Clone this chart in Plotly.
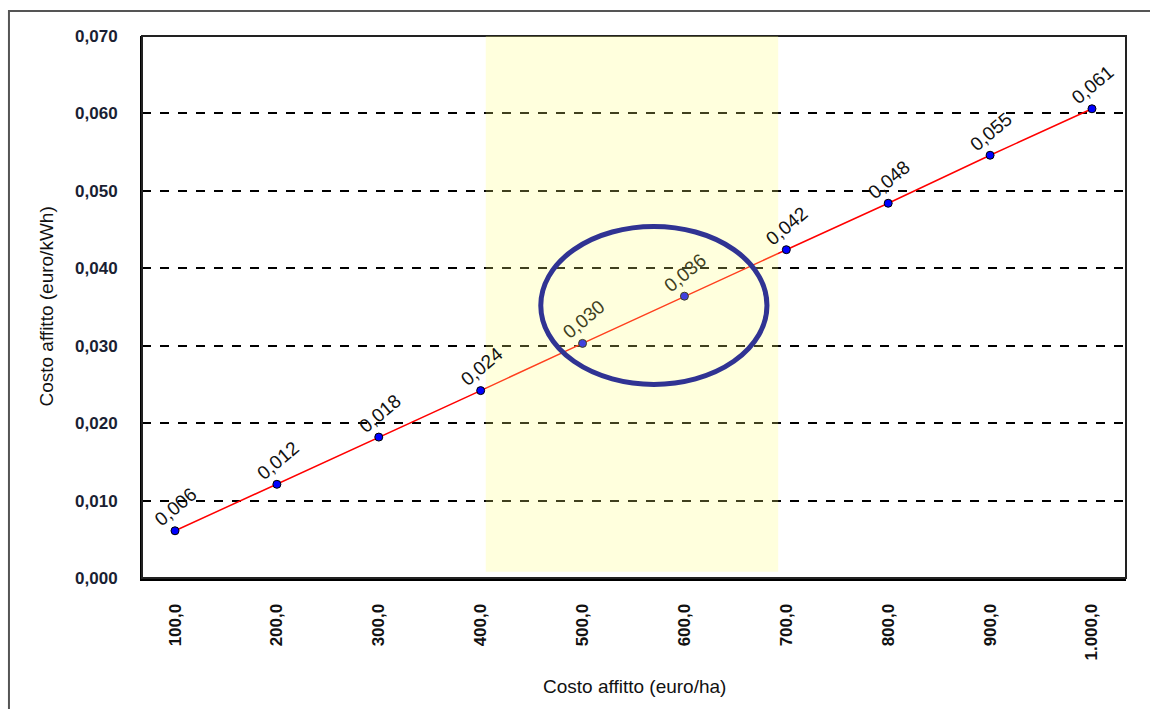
import plotly.graph_objects as go

# Rental cost per hectare vs. resulting cost per kWh
costo_ha = [100, 200, 300, 400, 500, 600, 700, 800, 900, 1000]
costo_kwh = [0.0061, 0.0121, 0.0182, 0.0242, 0.0303, 0.0364, 0.0424, 0.0484, 0.0546, 0.0606]
y_ticks = [0.0, 0.01, 0.02, 0.03, 0.04, 0.05, 0.06, 0.07]

# highlighted range and the ring around the central values
fascia_x = [405, 692]
fascia_y = [0.0008, 0.0705]
ellisse_x = [459, 681]
ellisse_y = [0.0250, 0.0454]

FONT = "Liberation Sans, Arial"

fig = go.Figure()
fig.add_trace(go.Scatter(
    x=costo_ha, y=costo_kwh, mode="lines+markers",
    line=dict(color="#ff0000", width=1.5),
    marker=dict(color="#0000ff", size=8, line=dict(color="#000000", width=1)),
    hoverinfo="skip", showlegend=False,
))

annotations = []
for xv, yv in zip(costo_ha, costo_kwh):
    inside = fascia_x[0] <= xv <= fascia_x[1]
    annotations.append(dict(
        x=xv, y=yv, xref="x", yref="y", showarrow=False,
        text=f"{yv:.3f}".replace(".", ","), textangle=-40,
        xshift=1, yshift=24,
        font=dict(family=FONT, size=19, color="#404020" if inside else "#111111"),
    ))

annotations.append(dict(
    x=0.5, y=-0.2, xref="paper", yref="paper", showarrow=False,
    text="Costo affitto (euro/ha)", xanchor="center", yanchor="middle",
    font=dict(family=FONT, size=19, color="#111111"),
))
annotations.append(dict(
    x=-0.098, y=0.5, xref="paper", yref="paper", showarrow=False,
    text="Costo affitto (euro/kWh)", textangle=-90, xanchor="center", yanchor="middle",
    font=dict(family=FONT, size=19, color="#111111"),
))

shapes = [
    # outer frame
    dict(type="rect", xref="paper", yref="paper", x0=-0.1352, x1=1.03, y0=-0.25, y1=1.0461,
         line=dict(color="#555555", width=2), layer="below"),
    # plot frame
    dict(type="rect", xref="paper", yref="paper", x0=0, x1=1, y0=0, y1=1,
         line=dict(color="#222222", width=2), layer="above"),
    # translucent highlight band
    dict(type="rect", xref="x", yref="y", x0=fascia_x[0], x1=fascia_x[1],
         y0=fascia_y[0], y1=fascia_y[1], fillcolor="rgb(255,255,120)", opacity=0.25,
         line=dict(width=0), layer="above"),
    # ring
    dict(type="circle", xref="x", yref="y", x0=ellisse_x[0], x1=ellisse_x[1],
         y0=ellisse_y[0], y1=ellisse_y[1], line=dict(color="#303393", width=5),
         fillcolor="rgba(0,0,0,0)", layer="above"),
]

fig.update_layout(
    width=1150, height=709,
    margin=dict(l=142, r=24, t=36, b=131),
    paper_bgcolor="white", plot_bgcolor="white",
    separators=",.",
    annotations=annotations, shapes=shapes,
    font=dict(family=FONT, color="#111111"),
)
fig.update_xaxes(
    range=[67.6, 1033.4], tickvals=costo_ha, tickformat=",.1f", tickangle=-90,
    tickfont=dict(family=FONT, size=17, color="#111111", weight="bold"),
    showgrid=False, zeroline=False, showline=True, linecolor="#000000", linewidth=3,
    ticks="", ticklabelstandoff=16,
)
fig.update_yaxes(
    range=[0, 0.07], tickvals=y_ticks, tickformat=".3f",
    tickfont=dict(family=FONT, size=17, color="#1a1f33", weight="bold"),
    showgrid=True, gridcolor="#000000", gridwidth=1.5, griddash="dash",
    zeroline=False, showline=True, linecolor="#000000", linewidth=2,
    ticks="", ticklabelstandoff=19,
)

fig.write_html("out.html")
